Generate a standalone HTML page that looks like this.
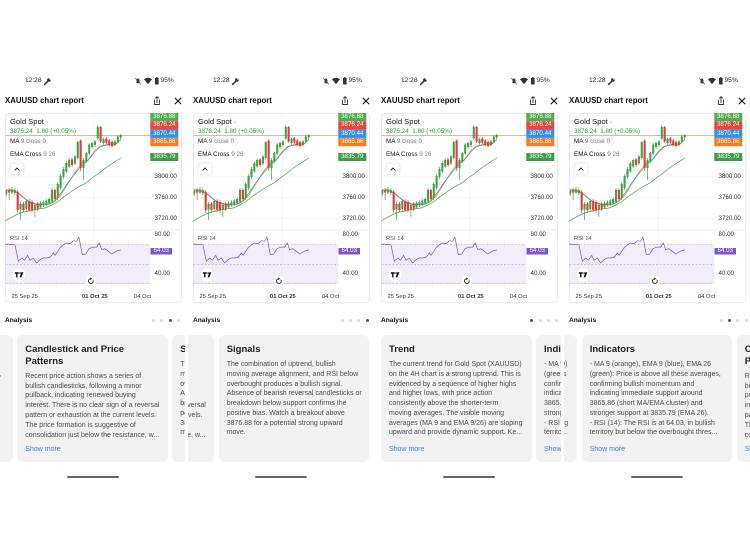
<!DOCTYPE html>
<html><head><meta charset="utf-8">
<style>
html,body{margin:0;padding:0;background:#fff;}
body{width:750px;height:550px;overflow:hidden;position:relative;font-family:"Liberation Sans",sans-serif;}
.p{position:absolute;top:0;height:550px;width:184.5px;overflow:hidden;}
.p div{position:absolute;white-space:nowrap;}
.cs{position:absolute;left:0;top:0;}
.sb{font-size:6.6px;line-height:8px;color:#222;top:77px;}
.hd{left:5px;top:96px;font-size:7.8px;line-height:10px;font-weight:bold;color:#111;}
.lg{left:10px;font-size:6.3px;line-height:8px;color:#131722;}
.gr{color:#787b86;}
.ax{left:154.5px;font-size:6.2px;line-height:8px;color:#333;}
.bd{left:150.3px;width:28px;text-align:center;font-size:6.2px;color:#fff;}
.dt{top:292.7px;font-size:5.8px;line-height:8px;color:#333;}
.an{left:5px;top:316px;font-size:6.6px;line-height:10px;font-weight:bold;color:#111;}
.dot{top:318.5px;width:3px;height:3px;border-radius:50%;background:#dadada;}
.dk{background:#555;}
.hb{left:66.7px;top:475.8px;width:52.3px;height:1.8px;border-radius:1px;background:#666;}
.cd{top:335px;width:150.5px;height:126.5px;background:#f2f2f2;border-radius:6px;overflow:hidden;}
.ct{left:8px;top:9px;font-size:9.5px;line-height:12px;font-weight:bold;color:#1f1f1f;}
.cb{left:8px;top:25.1px;font-size:7px;line-height:9.75px;color:#4d4d4d;}
.c2{top:36.8px;line-height:9.8px;}
.sm{left:8px;top:110.1px;font-size:7px;line-height:9.8px;color:#3d86d8;}
</style></head><body>

<svg width="0" height="0" style="position:absolute">
<defs>
<clipPath id="cc"><rect x="5.6" y="113" width="144.7" height="190"/></clipPath>
<g id="chart">
 <!-- status icons -->
 <path d="M44.6 84.4L48.2 80.8" stroke="#333" stroke-width="1.6" stroke-linecap="round"/>
 <circle cx="48.9" cy="79.9" r="1.8" fill="#333"/>
 <circle cx="49.9" cy="78.9" r="0.75" fill="#fff"/>
 <path d="M135.8 83h4.4l-.7-.9v-2.1a1.5 1.5 0 0 0-3 0v2.1z" fill="#444"/>
 <circle cx="138" cy="83.8" r="0.5" fill="#444"/>
 <path d="M135.2 78.2L140.8 84.4" stroke="#444" stroke-width="0.7"/>
 <path d="M144 79.3Q148 76.1 152 79.3L148 84.3Z" fill="#333"/>
 <rect x="155" y="77.9" width="3.6" height="6.6" rx="0.5" fill="#333"/>
 <rect x="156" y="77.2" width="1.6" height="1" fill="#333"/>
 <!-- header icons -->
 <path d="M154.6 99.6v4.9h4.8v-4.9" stroke="#333" stroke-width="0.9" fill="none"/>
 <path d="M157 103V96.6M155.3 98.3L157 96.6L158.7 98.3" stroke="#333" stroke-width="0.9" fill="none"/>
 <path d="M174.8 97.8L181.2 104.2M181.2 97.8L174.8 104.2" stroke="#222" stroke-width="1.1"/>
 <!-- card -->
 <rect x="5.5" y="113.3" width="176" height="189.5" rx="4" fill="#fff" stroke="#e3e5ea" stroke-width="0.8"/>
 <!-- grid -->
 <path d="M5.6 176.7H150.3M5.6 197.7H150.3M5.6 218.7H150.3M94 113.5V290" stroke="#f1f2f5" stroke-width="0.7"/>
 <path d="M5.6 230H181.3" stroke="#e6e8ec" stroke-width="0.8"/>
 <g clip-path="url(#cc)">
  <rect x="5.6" y="244.75" width="144.7" height="39" fill="#7e57c2" fill-opacity="0.1"/>
  <path d="M5.6 244.75H150.3M5.6 264.25H150.3M5.6 283.75H150.3" stroke="#9a98a8" stroke-width="0.6" stroke-dasharray="2 1.6"/>
  <path d="M5.6 135.5H150.3" stroke="#c3aa82" stroke-width="0.8"/>
  <polyline fill="none" stroke="#43a047" stroke-width="0.7" points="5,221 12,217 20,213 28,211 35,209.5 45,208 52,205 58,201.5 65,196 72,191 80,186 86,183 92,178 98,174 104,169 110,165 116,161 121,158"/>
  <polyline fill="none" stroke="#ff9800" stroke-width="0.7" points="5,190 10,189.5 15,190.5 20,194 25,198.5 30,202 38,204 45,205 50,204 55,201.5 61,195 68,184 75,172 82,163 88,160 95,150.5 100,146 105,145.5 110,145 115,145 118,142.5 121,139"/>
  <polyline fill="none" stroke="#2196f3" stroke-width="0.7" points="5,191 10,190.5 15,191.5 20,195 25,199 30,202.5 38,205 45,204.5 50,203.5 55,200.5 61,193 68,182.5 75,173.5 82,165 88,160.5 95,151.5 100,147 105,145 110,144 115,144 118,142 121,139.5"/>
  <path stroke="#43a047" stroke-width="0.7" d="M3.4 190.5V196.5M6.26 189V196M11.98 187V194M14.84 188V195M20.56 202V220M26.28 199V211M34.86 203V217M40.58 201V209M43.44 200V207M46.3 199V206M49.16 197.5V204.5M52.02 188V203M57.74 182V200M60.6 174V190M63.46 167V179M66.32 161V173M69.18 158.5V168M74.9 155V165M77.76 141V159.5M83.48 158V180M86.34 152V163M89.2 143V155M92.06 141.5V149M94.92 140V147M97.78 125V140M103.5 137.5V145M114.94 140V146.5M117.8 135V143M120.66 134V139"/>
  <path stroke="#e53935" stroke-width="0.7" d="M9.12 188V200M17.7 190V213M23.42 202V212M29.14 199V212M32 200V212.5M37.72 202V211M54.88 188.5V201M72.04 158V167M80.62 139.5V171M100.64 126V143M106.36 137V144M109.22 139V146.5M112.08 140.5V147.5"/>
  <g fill="#43a047">
   <rect x="2.35" y="192" width="2.1" height="3"/><rect x="5.21" y="191" width="2.1" height="3"/><rect x="10.93" y="189.5" width="2.1" height="3"/><rect x="13.79" y="190" width="2.1" height="3"/><rect x="19.51" y="204" width="2.1" height="5.5"/><rect x="25.23" y="201" width="2.1" height="8"/><rect x="33.81" y="205" width="2.1" height="5"/><rect x="39.53" y="203" width="2.1" height="4.5"/><rect x="42.39" y="202" width="2.1" height="3.5"/><rect x="45.25" y="200.5" width="2.1" height="4"/><rect x="48.11" y="199" width="2.1" height="4"/><rect x="50.97" y="190" width="2.1" height="11.5"/><rect x="56.69" y="184" width="2.1" height="14"/><rect x="59.55" y="176" width="2.1" height="12"/><rect x="62.41" y="169" width="2.1" height="8"/><rect x="65.27" y="163" width="2.1" height="8.5"/><rect x="68.13" y="160" width="2.1" height="6.5"/><rect x="73.85" y="156.5" width="2.1" height="7"/><rect x="76.71" y="142" width="2.1" height="16"/><rect x="82.43" y="160" width="2.1" height="8"/><rect x="85.29" y="153" width="2.1" height="8.5"/><rect x="88.15" y="144.5" width="2.1" height="9"/><rect x="91.01" y="143" width="2.1" height="4"/><rect x="93.87" y="141.5" width="2.1" height="3.5"/><rect x="96.73" y="127" width="2.1" height="11.5"/><rect x="102.45" y="139" width="2.1" height="4"/><rect x="113.89" y="141.5" width="2.1" height="3.5"/><rect x="116.75" y="136.5" width="2.1" height="5"/><rect x="119.61" y="135" width="2.1" height="2.5"/>
  </g>
  <g fill="#e53935">
   <rect x="8.07" y="190.5" width="2.1" height="2"/><rect x="16.65" y="192" width="2.1" height="18"/><rect x="22.37" y="203.5" width="2.1" height="6.5"/><rect x="28.09" y="201" width="2.1" height="9"/><rect x="30.95" y="202" width="2.1" height="8.5"/><rect x="36.67" y="203.5" width="2.1" height="6"/><rect x="53.83" y="190" width="2.1" height="9"/><rect x="70.99" y="159.5" width="2.1" height="5.5"/><rect x="79.57" y="140.5" width="2.1" height="27.5"/><rect x="99.59" y="127" width="2.1" height="14.5"/><rect x="105.31" y="138.5" width="2.1" height="4"/><rect x="108.17" y="140.5" width="2.1" height="4.5"/><rect x="111.03" y="142" width="2.1" height="4"/>
  </g>
  <polyline fill="none" stroke="#7e57c2" stroke-width="0.7" points="5,244 15,244.7 18.3,261.3 21.7,258 24.3,260.3 27.7,255.3 30,260.3 33.3,258 36.7,263 40,259.7 43.3,258 46.7,258 50,257.3 53.3,253 55,255.3 60,248 63.3,244.7 66.7,243 70,243.7 73.3,240.7 76.7,241.3 79,237.3 82.3,254.7 85.7,254 89,248.7 92.3,247.3 96.7,247 99.3,243 101.7,249.7 105,248.7 108.3,251.3 111.7,254 115,252 118.3,250.3 121,250"/>
 </g>
 <!-- badges -->
 <rect x="150.3" y="113" width="28" height="8.3" fill="#4caf50"/>
 <rect x="150.3" y="121.3" width="28" height="8.3" fill="#f04438"/>
 <rect x="150.3" y="129.6" width="28" height="8.3" fill="#2e90f0"/>
 <rect x="150.3" y="137.9" width="28" height="8.3" fill="#f57c22"/>
 <rect x="150.3" y="153" width="28" height="8" fill="#3f9c48"/>
 <rect x="150.5" y="248" width="21.5" height="6.5" fill="#7e57c2"/>
 <!-- chevron button -->
 <rect x="10" y="163" width="14" height="12" rx="2" fill="#fff" stroke="#e0e3eb" stroke-width="0.7"/>
 <path d="M14.6 170.4L17 168L19.4 170.4" stroke="#131722" stroke-width="0.9" fill="none"/>
 <!-- TV logo -->
 <circle cx="19" cy="275" r="7" fill="#fff" stroke="#ececec" stroke-width="0.6"/>
 <path d="M14.8 272.3h4v1.5h-1.3v3.6h-1.4v-3.6h-1.3z" fill="#111"/>
 <circle cx="20.1" cy="273" r="0.8" fill="#111"/>
 <path d="M21.2 272.3h2.1l-2 5.1h-1.6z" fill="#111"/>
 <!-- reset -->
 <rect x="85.5" y="276" width="10.5" height="10" rx="2" fill="#fff" stroke="#ececec" stroke-width="0.6"/>
 <path d="M92.7 279.6a2.4 2.4 0 1 1-1.9-0.9" stroke="#222" stroke-width="0.8" fill="none"/>
 <path d="M90.3 277.6l1.2 1.1l-1.2 1" stroke="#222" stroke-width="0.7" fill="none"/>
</g>
</defs>
</svg>

<!-- ===== PANEL 1 ===== -->
<div class="p" style="left:0;">
 <svg class="cs" width="188" height="550"><use href="#chart"/></svg>
 <div class="sb" style="left:25px;">12:28</div>
 <div class="sb" style="left:160.5px;">95%</div>
 <div class="hd">XAUUSD chart report</div>
 <div style="left:10px;top:117px;font-size:7.6px;line-height:10px;color:#131722;">Gold Spot ·</div>
 <div class="lg" style="top:128px;color:#2e9d48;">3876.24&nbsp; 1.80 (+0.05%)</div>
 <div class="lg" style="top:138px;">MA <span class="gr">9 close 0</span></div>
 <div class="lg" style="top:151px;">EMA Cross <span class="gr">9 26</span></div>
 <div class="bd" style="top:113px;line-height:8.3px;">3876.88</div>
 <div class="bd" style="top:121.3px;line-height:8.3px;">3876.24</div>
 <div class="bd" style="top:129.6px;line-height:8.3px;">3870.44</div>
 <div class="bd" style="top:137.9px;line-height:8.3px;">3865.86</div>
 <div class="bd" style="top:153px;line-height:8px;">3835.79</div>
 <div class="ax" style="top:172.7px;">3800.00</div>
 <div class="ax" style="top:193.7px;">3760.00</div>
 <div class="ax" style="top:214.7px;">3720.00</div>
 <div class="ax" style="top:230.5px;">80.00</div>
 <div class="ax" style="top:270px;">40.00</div>
 <div class="bd" style="left:150.5px;width:21.5px;top:248px;line-height:6.5px;">64.03</div>
 <div style="left:10px;top:235px;font-size:5.8px;line-height:8px;color:#555;">RSI 14</div>
 <div class="dt" style="left:11.5px;">25 Sep 25</div>
 <div class="dt" style="left:82px;font-weight:bold;">01 Oct 25</div>
 <div class="dt" style="left:134px;">04 Oct</div>
 <div class="an">Analysis</div>
 <div class="dot" style="left:152px;"></div><div class="dot" style="left:160.3px;"></div><div class="dot dk" style="left:168.5px;"></div><div class="dot" style="left:176.8px;"></div>
 <div class="cd" style="left:-137.7px;"><div class="ct">Indicators</div><div class="cb">- MA 9 (orange), EMA 9 (blue), EMA 26<br>(green): Price is above all these averages,<br>confirming bullish momentum and<br>indicating immediate support around<br>3865.86 (short MA/EMA cluster) and<br>stronger support at 3835.79 (EMA 26).<br>- RSI (14): The RSI is at 64.03, in bullish<br>territory but below the overbought thres...</div><div class="sm">Show more</div></div>
 <div class="cd" style="left:17.3px;"><div class="ct">Candlestick and Price<br>Patterns</div><div class="cb c2">Recent price action shows a series of<br>bullish candlesticks, following a minor<br>pullback, indicating renewed buying<br>interest. There is no clear sign of a reversal<br>pattern or exhaustion at the current levels.<br>The price formation is suggestive of<br>consolidation just below the resistance, w...</div><div class="sm">Show more</div></div>
 <div class="cd" style="left:172.3px;"><div class="ct">Signals</div><div class="cb">The combination of uptrend, bullish<br>moving average alignment, and RSI below<br>overbought produces a bullish signal.<br>Absence of bearish reversal candlesticks or<br>breakdown below support confirms the<br>positive bias. Watch a breakout above<br>3876.88 for a potential strong upward<br>move.</div></div>
 <div class="hb"></div>
</div>

<!-- ===== PANEL 2 ===== -->
<div class="p" style="left:188px;">
 <svg class="cs" width="188" height="550"><use href="#chart"/></svg>
 <div class="sb" style="left:25px;">12:28</div>
 <div class="sb" style="left:160.5px;">95%</div>
 <div class="hd">XAUUSD chart report</div>
 <div style="left:10px;top:117px;font-size:7.6px;line-height:10px;color:#131722;">Gold Spot ·</div>
 <div class="lg" style="top:128px;color:#2e9d48;">3876.24&nbsp; 1.80 (+0.05%)</div>
 <div class="lg" style="top:138px;">MA <span class="gr">9 close 0</span></div>
 <div class="lg" style="top:151px;">EMA Cross <span class="gr">9 26</span></div>
 <div class="bd" style="top:113px;line-height:8.3px;">3876.88</div>
 <div class="bd" style="top:121.3px;line-height:8.3px;">3876.24</div>
 <div class="bd" style="top:129.6px;line-height:8.3px;">3870.44</div>
 <div class="bd" style="top:137.9px;line-height:8.3px;">3865.86</div>
 <div class="bd" style="top:153px;line-height:8px;">3835.79</div>
 <div class="ax" style="top:172.7px;">3800.00</div>
 <div class="ax" style="top:193.7px;">3760.00</div>
 <div class="ax" style="top:214.7px;">3720.00</div>
 <div class="ax" style="top:230.5px;">80.00</div>
 <div class="ax" style="top:270px;">40.00</div>
 <div class="bd" style="left:150.5px;width:21.5px;top:248px;line-height:6.5px;">64.03</div>
 <div style="left:10px;top:235px;font-size:5.8px;line-height:8px;color:#555;">RSI 14</div>
 <div class="dt" style="left:11.5px;">25 Sep 25</div>
 <div class="dt" style="left:82px;font-weight:bold;">01 Oct 25</div>
 <div class="dt" style="left:134px;">04 Oct</div>
 <div class="an">Analysis</div>
 <div class="dot" style="left:152.5px;"></div><div class="dot" style="left:160.8px;"></div><div class="dot" style="left:169px;"></div><div class="dot dk" style="left:177.5px;"></div>
 <div class="cd" style="left:-124.3px;"><div class="ct">Candlestick and Price<br>Patterns</div><div class="cb c2">Recent price action shows a series of<br>bullish candlesticks, following a minor<br>pullback, indicating renewed buying<br>interest. There is no clear sign of a reversal<br>pattern or exhaustion at the current levels.<br>The price formation is suggestive of<br>consolidation just below the resistance, w...</div><div class="sm">Show more</div></div>
 <div class="cd" style="left:30.7px;"><div class="ct">Signals</div><div class="cb">The combination of uptrend, bullish<br>moving average alignment, and RSI below<br>overbought produces a bullish signal.<br>Absence of bearish reversal candlesticks or<br>breakdown below support confirms the<br>positive bias. Watch a breakout above<br>3876.88 for a potential strong upward<br>move.</div></div>
 <div class="hb"></div>
</div>

<!-- ===== PANEL 3 ===== -->
<div class="p" style="left:376px;">
 <svg class="cs" width="188" height="550"><use href="#chart"/></svg>
 <div class="sb" style="left:25px;">12:28</div>
 <div class="sb" style="left:160.5px;">95%</div>
 <div class="hd">XAUUSD chart report</div>
 <div style="left:10px;top:117px;font-size:7.6px;line-height:10px;color:#131722;">Gold Spot ·</div>
 <div class="lg" style="top:128px;color:#2e9d48;">3876.24&nbsp; 1.80 (+0.05%)</div>
 <div class="lg" style="top:138px;">MA <span class="gr">9 close 0</span></div>
 <div class="lg" style="top:151px;">EMA Cross <span class="gr">9 26</span></div>
 <div class="bd" style="top:113px;line-height:8.3px;">3876.88</div>
 <div class="bd" style="top:121.3px;line-height:8.3px;">3876.24</div>
 <div class="bd" style="top:129.6px;line-height:8.3px;">3870.44</div>
 <div class="bd" style="top:137.9px;line-height:8.3px;">3865.86</div>
 <div class="bd" style="top:153px;line-height:8px;">3835.79</div>
 <div class="ax" style="top:172.7px;">3800.00</div>
 <div class="ax" style="top:193.7px;">3760.00</div>
 <div class="ax" style="top:214.7px;">3720.00</div>
 <div class="ax" style="top:230.5px;">80.00</div>
 <div class="ax" style="top:270px;">40.00</div>
 <div class="bd" style="left:150.5px;width:21.5px;top:248px;line-height:6.5px;">64.03</div>
 <div style="left:10px;top:235px;font-size:5.8px;line-height:8px;color:#555;">RSI 14</div>
 <div class="dt" style="left:11.5px;">25 Sep 25</div>
 <div class="dt" style="left:82px;font-weight:bold;">01 Oct 25</div>
 <div class="dt" style="left:134px;">04 Oct</div>
 <div class="an">Analysis</div>
 <div class="dot dk" style="left:153.5px;"></div><div class="dot" style="left:162.5px;"></div><div class="dot" style="left:170.5px;"></div><div class="dot" style="left:178.5px;"></div>
 <div class="cd" style="left:5px;"><div class="ct">Trend</div><div class="cb">The current trend for Gold Spot (XAUUSD)<br>on the 4H chart is a strong uptrend. This is<br>evidenced by a sequence of higher highs<br>and higher lows, with price action<br>consistently above the shorter-term<br>moving averages. The visible moving<br>averages (MA 9 and EMA 9/26) are sloping<br>upward and provide dynamic support. Ke...</div><div class="sm">Show more</div></div>
 <div class="cd" style="left:160px;"><div class="ct">Indicators</div><div class="cb">- MA 9 (orange), EMA 9 (blue), EMA 26<br>(green): Price is above all these averages,<br>confirming bullish momentum and<br>indicating immediate support around<br>3865.86 (short MA/EMA cluster) and<br>stronger support at 3835.79 (EMA 26).<br>- RSI (14): The RSI is at 64.03, in bullish<br>territory but below the overbought thres...</div><div class="sm">Show more</div></div>
 <div class="hb"></div>
</div>

<!-- ===== PANEL 4 ===== -->
<div class="p" style="left:564px;width:186px;">
 <svg class="cs" width="188" height="550"><use href="#chart"/></svg>
 <div class="sb" style="left:25px;">12:28</div>
 <div class="sb" style="left:160.5px;">95%</div>
 <div class="hd">XAUUSD chart report</div>
 <div style="left:10px;top:117px;font-size:7.6px;line-height:10px;color:#131722;">Gold Spot ·</div>
 <div class="lg" style="top:128px;color:#2e9d48;">3876.24&nbsp; 1.80 (+0.05%)</div>
 <div class="lg" style="top:138px;">MA <span class="gr">9 close 0</span></div>
 <div class="lg" style="top:151px;">EMA Cross <span class="gr">9 26</span></div>
 <div class="bd" style="top:113px;line-height:8.3px;">3876.88</div>
 <div class="bd" style="top:121.3px;line-height:8.3px;">3876.24</div>
 <div class="bd" style="top:129.6px;line-height:8.3px;">3870.44</div>
 <div class="bd" style="top:137.9px;line-height:8.3px;">3865.86</div>
 <div class="bd" style="top:153px;line-height:8px;">3835.79</div>
 <div class="ax" style="top:172.7px;">3800.00</div>
 <div class="ax" style="top:193.7px;">3760.00</div>
 <div class="ax" style="top:214.7px;">3720.00</div>
 <div class="ax" style="top:230.5px;">80.00</div>
 <div class="ax" style="top:270px;">40.00</div>
 <div class="bd" style="left:150.5px;width:21.5px;top:248px;line-height:6.5px;">64.03</div>
 <div style="left:10px;top:235px;font-size:5.8px;line-height:8px;color:#555;">RSI 14</div>
 <div class="dt" style="left:11.5px;">25 Sep 25</div>
 <div class="dt" style="left:82px;font-weight:bold;">01 Oct 25</div>
 <div class="dt" style="left:134px;">04 Oct</div>
 <div class="an">Analysis</div>
 <div class="dot" style="left:155.5px;"></div><div class="dot dk" style="left:163.5px;"></div><div class="dot" style="left:171.5px;"></div><div class="dot" style="left:180.5px;"></div>
 <div class="cd" style="left:-137.3px;"><div class="ct">Trend</div><div class="cb">The current trend for Gold Spot (XAUUSD)<br>on the 4H chart is a strong uptrend. This is<br>evidenced by a sequence of higher highs<br>and higher lows, with price action<br>consistently above the shorter-term<br>moving averages. The visible moving<br>averages (MA 9 and EMA 9/26) are sloping<br>upward and provide dynamic support. Ke...</div><div class="sm">Show more</div></div>
 <div class="cd" style="left:17.7px;"><div class="ct">Indicators</div><div class="cb">- MA 9 (orange), EMA 9 (blue), EMA 26<br>(green): Price is above all these averages,<br>confirming bullish momentum and<br>indicating immediate support around<br>3865.86 (short MA/EMA cluster) and<br>stronger support at 3835.79 (EMA 26).<br>- RSI (14): The RSI is at 64.03, in bullish<br>territory but below the overbought thres...</div><div class="sm">Show more</div></div>
 <div class="cd" style="left:172.7px;"><div class="ct">Candlestick and Price<br>Patterns</div><div class="cb c2">Recent price action shows a series of<br>bullish candlesticks, following a minor<br>pullback, indicating renewed buying<br>interest. There is no clear sign of a reversal<br>pattern or exhaustion at the current levels.<br>The price formation is suggestive of<br>consolidation just below the resistance, w...</div><div class="sm">Show more</div></div>
 <div class="hb"></div>
</div>

</body></html>
